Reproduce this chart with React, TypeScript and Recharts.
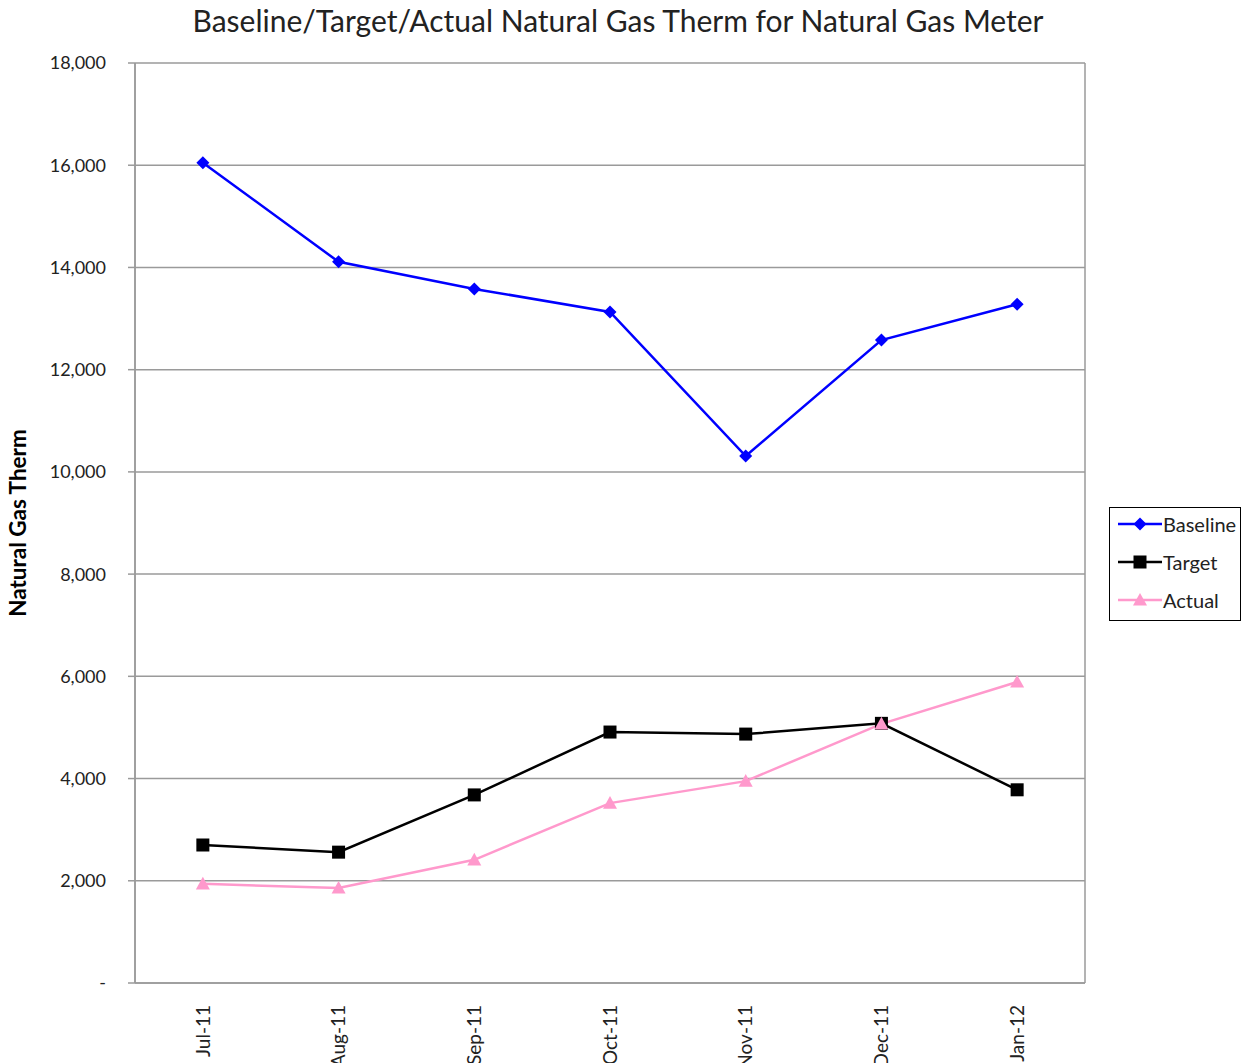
import { CartesianGrid, Line, LineChart, XAxis, YAxis } from 'recharts'

const months = ['Jul-11', 'Aug-11', 'Sep-11', 'Oct-11', 'Nov-11', 'Dec-11', 'Jan-12']
const baseline = [16050, 14110, 13580, 13130, 10310, 12580, 13280]
const target = [2700, 2560, 3680, 4910, 4870, 5080, 3780]
const actual = [1940, 1860, 2410, 3520, 3950, 5070, 5890]
const yTicks = [0, 2000, 4000, 6000, 8000, 10000, 12000, 14000, 16000, 18000]
const gridTicks = [0, 1, 2, 3, 4, 5, 6, 7]

const data = months.map((m, i) => ({ month: m, baseline: baseline[i], target: target[i], actual: actual[i] }))

const FONT = 'Lato, "Liberation Sans", sans-serif'
const GRID = '#9a9a9a'
const BLUE = '#0000ff'
const PINK = '#ff99cc'

function Diamond({ cx, cy, fill }: any) {
  if (cx == null || cy == null) return null
  const r = 6.5
  return <path d={`M${cx},${cy - r}L${cx + r},${cy}L${cx},${cy + r}L${cx - r},${cy}Z`} fill={fill} />
}

function Square({ cx, cy, fill }: any) {
  if (cx == null || cy == null) return null
  const r = 6.5
  return <rect x={cx - r} y={cy - r} width={r * 2} height={r * 2} fill={fill} />
}

function Triangle({ cx, cy, fill }: any) {
  if (cx == null || cy == null) return null
  const r = 7
  return <path d={`M${cx},${cy - r}L${cx + r},${cy + r * 0.8}L${cx - r},${cy + r * 0.8}Z`} fill={fill} />
}

function MonthTick({ x, y, payload }: any) {
  return (
    <g transform={`translate(${x},${y})`}>
      <text transform="rotate(-90)" textAnchor="end" dy="0.35em" fill="#222" fontSize={19} fontFamily={FONT}>
        {payload.value}
      </text>
    </g>
  )
}

const legendItems = [
  { name: 'Baseline', color: BLUE, Shape: Diamond },
  { name: 'Target', color: '#000', Shape: Square },
  { name: 'Actual', color: PINK, Shape: Triangle },
]

export default function App() {
  return (
    <div style={{ position: 'absolute', left: 0, top: 0, width: 1241, height: 1063, background: '#fff', fontFamily: FONT }}>
      <div style={{ position: 'absolute', left: 0, top: 2, width: 1236, textAlign: 'center', fontSize: 30, color: '#222' }}>
        Baseline/Target/Actual Natural Gas Therm for Natural Gas Meter
      </div>
      <LineChart width={1241} height={1063} data={data} margin={{ top: 63, right: 156, left: 0, bottom: 0 }}>
        <CartesianGrid xAxisId="a-grid" stroke={GRID} strokeWidth={1.5} />
        <XAxis
          xAxisId="a-grid"
          type="number"
          domain={[0, 7]}
          ticks={gridTicks}
          allowDataOverflow
          tick={false}
          tickSize={7}
          stroke={GRID}
          strokeWidth={1.5}
          height={10}
        />
        <XAxis
          xAxisId="b-cat"
          dataKey="month"
          scale="band"
          interval={0}
          axisLine={false}
          tickLine={false}
          tickMargin={6}
          height={70}
          tick={<MonthTick />}
        />
        <YAxis
          domain={[0, 18000]}
          ticks={yTicks}
          width={135}
          tickSize={7}
          tickMargin={22}
          stroke={GRID}
          strokeWidth={1.5}
          tick={{ fill: '#222', fontSize: 18, fontFamily: FONT }}
          tickFormatter={(v: number) => (v === 0 ? '-' : v.toLocaleString('en-US'))}
          label={{
            content: ({ viewBox }: any) => (
              <text
                x={20}
                y={viewBox.y + viewBox.height / 2}
                transform={`rotate(-90, 20, ${viewBox.y + viewBox.height / 2})`}
                textAnchor="middle"
                dominantBaseline="middle"
                fontWeight="bold"
                fontSize={22.5}
                fontFamily={FONT}
                fill="#000"
              >
                Natural Gas Therm
              </text>
            ),
          }}
        />
        <Line xAxisId="b-cat" dataKey="baseline" stroke={BLUE} strokeWidth={2.5} dot={<Diamond fill={BLUE} />} isAnimationActive={false} />
        <Line xAxisId="b-cat" dataKey="target" stroke="#000" strokeWidth={2.5} dot={<Square fill="#000" />} isAnimationActive={false} />
        <Line xAxisId="b-cat" dataKey="actual" stroke={PINK} strokeWidth={2.5} dot={<Triangle fill={PINK} />} isAnimationActive={false} />
      </LineChart>
      <div
        style={{
          position: 'absolute',
          left: 1109,
          top: 507,
          width: 132,
          height: 114,
          border: '1.5px solid #000',
          boxSizing: 'border-box',
          paddingTop: 0,
        }}
      >
        {legendItems.map(({ name, color, Shape }, i) => (
          <div key={name} style={{ display: 'flex', alignItems: 'center', height: 38, marginTop: i === 0 ? -3 : 0, paddingLeft: 8 }}>
            <svg width={44} height={20}>
              <line x1={0} y1={10} x2={44} y2={10} stroke={color} strokeWidth={2.5} />
              <Shape cx={22} cy={10} fill={color} />
            </svg>
            <span style={{ fontSize: 20, color: '#222', marginLeft: 1 }}>{name}</span>
          </div>
        ))}
      </div>
    </div>
  )
}
